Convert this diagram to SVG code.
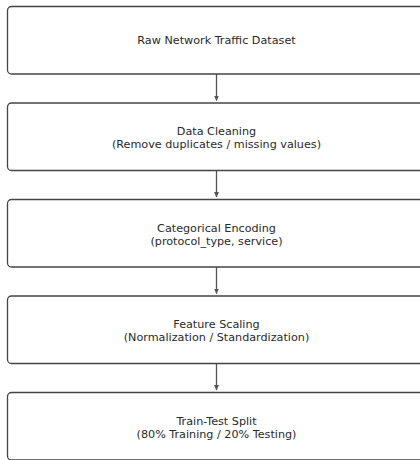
<svg xmlns="http://www.w3.org/2000/svg" width="420" height="460" viewBox="0 0 420 460">
<defs>
<style>
.box{fill:#fff;stroke:#444;stroke-width:1.3}
.t{font-family:"DejaVu Sans",sans-serif;font-size:11.2px;fill:#2a2a2a;text-anchor:middle}
.c{stroke:#555;stroke-width:1.3;fill:none}
</style>
<marker id="ah" markerWidth="6" markerHeight="6" refX="5" refY="3" orient="auto" markerUnits="userSpaceOnUse">
<path d="M0,0.5 L5.5,3 L0,5.5 Z" fill="#555"/>
</marker>
</defs>
<rect width="420" height="460" fill="#fff"/>
<g id="connectors">
<line class="c" x1="216.5" y1="71" x2="216.5" y2="100.5" marker-end="url(#ah)"/>
<line class="c" x1="216.5" y1="167.5" x2="216.5" y2="197" marker-end="url(#ah)"/>
<line class="c" x1="216.5" y1="264" x2="216.5" y2="293.5" marker-end="url(#ah)"/>
<line class="c" x1="216.5" y1="360.5" x2="216.5" y2="390" marker-end="url(#ah)"/>
</g>
<g id="n1">
<rect class="box" x="7.5" y="6.5" width="430" height="67.5" rx="4"/>
<text class="t" x="216.5" y="44">Raw Network Traffic Dataset</text>
</g>
<g id="n2">
<rect class="box" x="7.5" y="103" width="430" height="67.5" rx="4"/>
<text class="t" x="216.5" y="135">Data Cleaning</text>
<text class="t" x="216.5" y="148">(Remove duplicates / missing values)</text>
</g>
<g id="n3">
<rect class="box" x="7.5" y="199.5" width="430" height="67.5" rx="4"/>
<text class="t" x="216.5" y="231.5">Categorical Encoding</text>
<text class="t" x="216.5" y="244.5">(protocol_type, service)</text>
</g>
<g id="n4">
<rect class="box" x="7.5" y="296" width="430" height="67.5" rx="4"/>
<text class="t" x="216.5" y="328">Feature Scaling</text>
<text class="t" x="216.5" y="341">(Normalization / Standardization)</text>
</g>
<g id="n5">
<rect class="box" x="7.5" y="392.5" width="430" height="67.5" rx="4"/>
<text class="t" x="216.5" y="424.5">Train-Test Split</text>
<text class="t" x="216.5" y="437.5">(80% Training / 20% Testing)</text>
</g>
</svg>
